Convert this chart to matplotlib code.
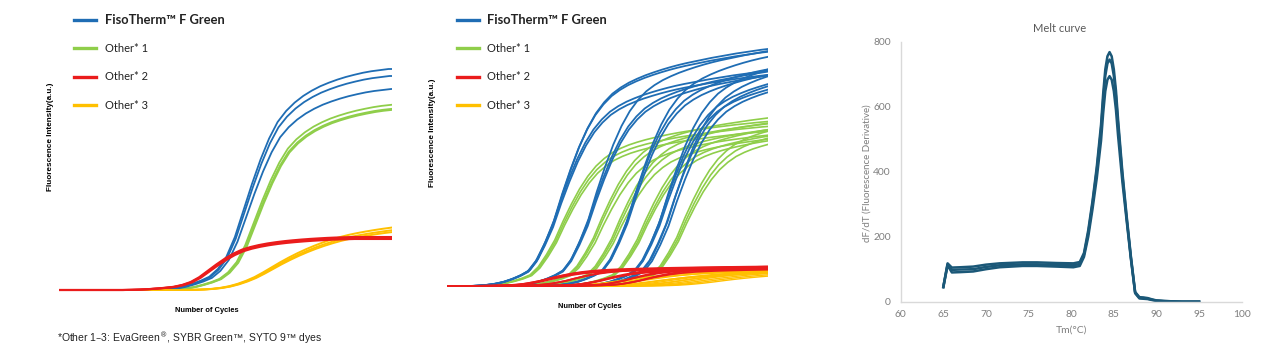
import matplotlib.pyplot as plt
import numpy as np

# amplification curve shapes (fraction of plateau, one value per cycle around Ct)
shape_offsets = list(range(-10, 18))
fast_shape = [0.000, 0.003, 0.008, 0.016, 0.028, 0.042, 0.060, 0.095, 0.150, 0.240,
              0.360, 0.480, 0.590, 0.685, 0.760, 0.810, 0.848, 0.878, 0.902, 0.922,
              0.938, 0.952, 0.964, 0.974, 0.983, 0.990, 0.995, 1.000]
slow_shape = [0.000, 0.003, 0.008, 0.016, 0.030, 0.052, 0.085, 0.128, 0.180, 0.245,
              0.315, 0.385, 0.450, 0.510, 0.565, 0.615, 0.660, 0.700, 0.735, 0.765,
              0.790, 0.812, 0.832, 0.850, 0.866, 0.880, 0.893, 0.905]
mid_offsets = list(range(-10, 28))
mid_shape = [0.000, 0.002, 0.005, 0.010, 0.018, 0.030, 0.045, 0.065, 0.112, 0.185,
             0.270, 0.380, 0.480, 0.570, 0.645, 0.705, 0.750, 0.785, 0.810, 0.830,
             0.846, 0.860, 0.872, 0.883, 0.893, 0.902, 0.910, 0.917, 0.924, 0.931,
             0.937, 0.943, 0.949, 0.954, 0.959, 0.964, 0.968, 0.972]

# left panel: single sample, replicates (Ct, plateau)
left_blue_ct = [22.6, 22.7, 22.9]
left_blue_top = [221, 214, 201]
left_green_ct = [23.8, 23.9, 24.0]
left_green_top = [186, 182, 181]
left_red_ct = [18.4, 18.5, 18.6]
left_red_top = [53, 52, 51]
left_yellow_ct = [25.9, 26.1, 26.0]
left_yellow_top = [72, 67, 69]

# middle panel: dilution series
mid_blue_ct = [14.1, 14.0, 13.8, 13.9, 18.2, 18.0, 18.1, 23.0, 22.8, 22.9,
               26.9, 26.7, 26.8, 27.8, 27.6, 27.9]
mid_blue_top = [245, 242, 222, 218, 248, 226, 222, 250, 236, 230,
                245, 228, 222, 240, 228, 222]
mid_green_ct = [14.1, 14.2, 14.3, 18.8, 18.9, 19.0, 21.0, 21.1, 21.2,
                24.1, 24.2, 24.3, 28.9, 29.0, 29.1]
mid_green_top = [170, 165, 160, 178, 172, 160, 175, 168, 158,
                 172, 165, 160, 180, 172, 165]
mid_red_ct = [12.3, 12.5, 12.7, 15.4, 15.6, 19.3, 19.5, 19.7, 22.4, 22.6, 24.2, 24.4]
mid_red_top = [19, 20, 18, 19, 20, 18, 20, 19, 19, 21, 18, 20]
mid_yellow_ct = [22, 23, 25, 26, 28, 29, 31, 32, 33, 34, 30, 27]
mid_yellow_top = [17, 16, 18, 15, 17, 16, 18, 17, 16, 15, 19, 17]

# melt curve
melt_temp = [65.0, 65.5, 66.0, 67.0, 68.5, 70.0, 71.6, 74.3, 76.0, 78.3, 80.25, 81.0,
             81.5, 82.0, 82.5, 83.0, 83.5, 83.75, 84.0, 84.25, 84.5, 84.75, 85.0, 85.25,
             85.5, 86.0, 86.5, 87.0, 87.5, 88.0, 88.5, 89.0, 89.5, 90.0, 91.0, 92.0, 93.0, 95.0]
melt_a = [46, 118, 105, 106, 108, 114, 118, 121, 121, 119, 118, 122, 150, 220, 310, 415,
          545, 640, 715, 755, 768, 755, 715, 650, 560, 400, 265, 140, 30, 14, 13, 11, 7,
          4, 2, 1, 0, 0]
melt_b = [46, 115, 98, 99, 100, 107, 112, 115, 115, 113, 112, 116, 145, 212, 302, 405,
          530, 622, 695, 733, 745, 733, 695, 632, 545, 390, 258, 136, 28, 12, 11, 9, 6,
          3, 2, 1, 0, 0]
melt_c = [44, 112, 90, 91, 93, 100, 106, 110, 110, 108, 106, 110, 138, 200, 285, 380,
          495, 580, 648, 683, 694, 683, 648, 590, 510, 370, 250, 132, 26, 10, 9, 8, 5,
          3, 1, 0, 0, 0]

labels = ['FisoTherm\u2122 F Green', 'Other* 1', 'Other* 2', 'Other* 3']
BLUE, GREEN, RED, YELLOW = '#1f6db4', '#8fce4a', '#ea1c1c', '#ffc000'

W, H = 1263, 354
fig = plt.figure(figsize=(W / 100, H / 100), dpi=100)


def draw(ax, offsets, shape, cts, tops, color, lw, label):
    xs = np.concatenate([[-80], offsets, [80]])
    ys = np.concatenate([[shape[0]], shape, [shape[-1]]])
    for i, (ct, top) in enumerate(zip(cts, tops)):
        ax.plot(ct + xs, top * ys, color=color, lw=lw, label=label if i == 0 else None)


def qpcr_panel(ax, lx, ly, xx, xy):
    ax.set_xlim(1, 40)
    ax.set_ylim(-10, 250)
    ax.axis('off')
    ax.text(lx, ly, 'Fluorescence Intensity(a.u.)', transform=ax.transAxes, rotation=90,
            ha='center', va='center', fontsize=5.9, fontweight='bold', family='Liberation Sans')
    ax.text(xx, xy, 'Number of Cycles', transform=ax.transAxes, ha='center', va='center',
            fontsize=5.4, fontweight='bold', family='Liberation Sans')


def qpcr_legend(ax, x):
    handles, labs = ax.get_legend_handles_labels()
    order = [labs.index(l) for l in labels]
    leg = ax.legend([handles[i] for i in order], labels, loc='upper left',
                    bbox_to_anchor=(x / W, 1 - 14 / H), bbox_transform=fig.transFigure,
                    frameon=False, borderpad=0, borderaxespad=0,
                    handlelength=2.0, handletextpad=0.75, labelspacing=1.55,
                    prop={'family': ['Lato', 'DejaVu Sans'], 'size': 8})
    for h in leg.legend_handles:
        h.set_linewidth(2.4)
    t0 = leg.get_texts()[0]
    t0.set_fontsize(9.3)
    t0.set_fontweight('bold')
    for t in leg.get_texts():
        t.set_color('#222222')


# left panel
ax1 = fig.add_axes([59 / W, 1 - 300 / H, 333 / W, 260 / H])
draw(ax1, shape_offsets, fast_shape, left_green_ct, left_green_top, GREEN, 1.3, labels[1])
draw(ax1, shape_offsets, fast_shape, left_blue_ct, left_blue_top, BLUE, 1.3, labels[0])
draw(ax1, shape_offsets, slow_shape, left_yellow_ct, left_yellow_top, YELLOW, 1.4, labels[3])
draw(ax1, shape_offsets, fast_shape, left_red_ct, left_red_top, RED, 1.5, labels[2])
qpcr_panel(ax1, -0.027, 0.627, 0.444, -0.042)
qpcr_legend(ax1, 74)

fig.text(57 / W, 1 - 338 / H, '*Other 1\u20133: EvaGreen$^{\u00ae}$, SYBR Green\u2122, SYTO 9\u2122 dyes',
         ha='left', va='center', fontsize=7.5, family='Liberation Sans', color='#222222')

# middle panel
ax2 = fig.add_axes([446.7 / W, 1 - 296 / H, 321.6 / W, 260 / H])
draw(ax2, mid_offsets, mid_shape, mid_green_ct, mid_green_top, GREEN, 1.2, labels[1])
draw(ax2, mid_offsets, mid_shape, mid_blue_ct, mid_blue_top, BLUE, 1.3, labels[0])
draw(ax2, shape_offsets, slow_shape, mid_yellow_ct, mid_yellow_top, YELLOW, 1.0, labels[3])
draw(ax2, mid_offsets, mid_shape, mid_red_ct, mid_red_top, RED, 1.3, labels[2])
qpcr_panel(ax2, -0.045, 0.627, 0.446, -0.041)
qpcr_legend(ax2, 456.7)

# melt curve
grey = '#7f7f7f'
ax3 = fig.add_axes([900.7 / W, 1 - 301.7 / H, 341 / W, 260 / H])
for vals in [melt_c, melt_b, melt_a]:
    ax3.plot(melt_temp, vals, color='#1b5878', lw=1.8)
ax3.set_xlim(60, 100)
ax3.set_ylim(0, 800)
ax3.set_xticks(range(60, 101, 5))
ax3.set_yticks(range(0, 801, 200))
for s in ['top', 'right']:
    ax3.spines[s].set_visible(False)
for s in ['left', 'bottom']:
    ax3.spines[s].set_color('#d9d9d9')
    ax3.spines[s].set_linewidth(1)
ax3.tick_params(length=0, labelsize=7.4, labelcolor=grey)
ax3.tick_params(axis='x', pad=6)
ax3.tick_params(axis='y', pad=7)
for t in ax3.get_xticklabels() + ax3.get_yticklabels():
    t.set_family('Lato')
ax3.text(0.467, 1.05, 'Melt curve', transform=ax3.transAxes, ha='center', va='center',
         fontsize=8, color='#595959', family='Lato')
ax3.text(-0.1, 0.495, 'dF/dT (Fluorescence Derivative)', transform=ax3.transAxes,
         rotation=90, ha='center', va='center', fontsize=7, color=grey, family='Lato')
ax3.text(0.501, -0.109, 'Tm(\u00b0C)', transform=ax3.transAxes, ha='center', va='center',
         fontsize=7.5, color=grey, family='Lato')

fig.savefig('out.png', dpi=100)
